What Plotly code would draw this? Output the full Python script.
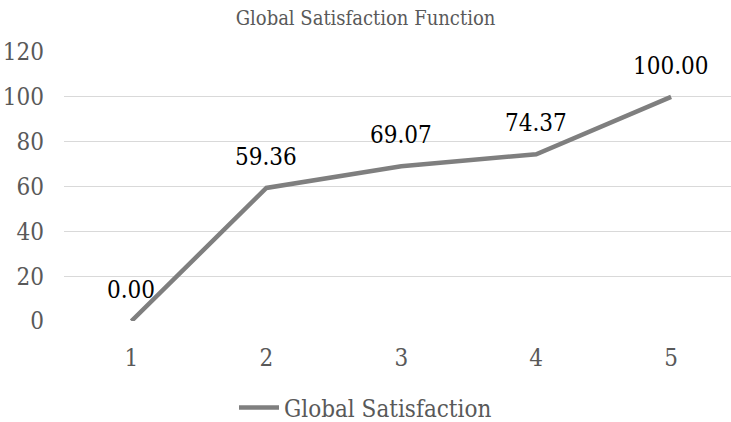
import plotly.graph_objects as go

# Chart data
categories = [1, 2, 3, 4, 5]
satisfaction = [0.00, 59.36, 69.07, 74.37, 100.00]
y_ticks = [0, 20, 40, 60, 80, 100, 120]
series_name = "Global Satisfaction"
title_text = "Global Satisfaction Function"

FONT = "DejaVu Serif Condensed"
GREY_TEXT = "#595959"
LINE_GREY = "#7f7f7f"
GRID_GREY = "#d9d9d9"

fig = go.Figure()
fig.add_trace(go.Scatter(
    x=categories,
    y=satisfaction,
    mode="lines",
    name=series_name,
    line=dict(color=LINE_GREY, width=4.5),
    showlegend=True,
))

# Value labels centred above each point
for cx, v in zip(categories, satisfaction):
    fig.add_annotation(
        x=cx, y=v, text=f"{v:.2f}", showarrow=False,
        yshift=31,
        font=dict(family=FONT, size=24, color="#000000"),
    )

fig.update_layout(
    width=731, height=422,
    paper_bgcolor="white", plot_bgcolor="white",
    font=dict(family=FONT),
    margin=dict(l=64, r=0, t=52, b=101),
    title=dict(
        text=title_text, x=0.5, xref="container", xanchor="center",
        y=1 - 18 / 422, yref="container", yanchor="middle",
        font=dict(family=FONT, size=20, color=GREY_TEXT),
    ),
    legend=dict(
        orientation="h", x=0.5, xref="container", xanchor="center",
        y=14 / 422, yref="container", yanchor="middle",
        font=dict(family=FONT, size=24, color=GREY_TEXT),
        itemwidth=40,
    ),
    xaxis=dict(
        range=[0.5, 5.444], tickvals=categories,
        showgrid=False, zeroline=False, showline=False,
        ticks="", ticklabelstandoff=20,
        tickfont=dict(family=FONT, size=24, color=GREY_TEXT),
        fixedrange=True,
    ),
    yaxis=dict(
        range=[0, 120], tickvals=y_ticks,
        showgrid=True, gridcolor=GRID_GREY, gridwidth=1.3,
        zeroline=False, showline=False,
        ticks="", ticklabelstandoff=19,
        tickfont=dict(family=FONT, size=24, color=GREY_TEXT),
        fixedrange=True,
    ),
)

fig.write_html("out.html")
